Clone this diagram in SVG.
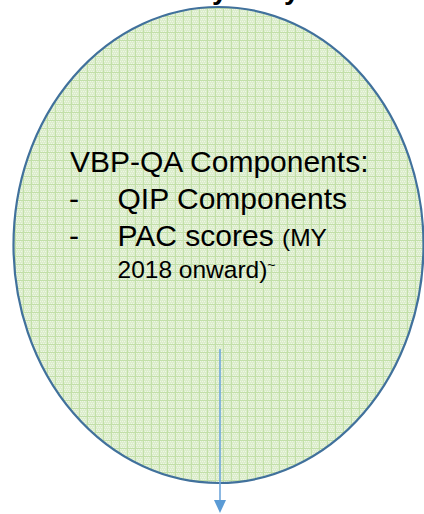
<svg xmlns="http://www.w3.org/2000/svg" width="424" height="514" viewBox="0 0 424 514">
  <style>
    .title { font-family: "Liberation Sans", Arial, sans-serif; font-weight: bold; font-size: 28px; fill: #000; }
    .label { font-family: "Liberation Sans", Arial, sans-serif; font-size: 30px; fill: #000; }
    .small { font-size: 24.5px; }
    .tiny { font-size: 14px; }
    .conn { stroke: #6fa6db; stroke-width: 1.6; fill: none; }
  </style>
  <defs>
    <!-- light green grid fill with a fine dotted texture -->
    <pattern id="gridFill" x="7" y="0" width="8" height="8" patternUnits="userSpaceOnUse">
      <rect width="8" height="8" fill="#dcedcc"/>
      <rect x="1" y="1" width="1" height="1" fill="#eef6e6"/>
      <rect x="3" y="1" width="1" height="1" fill="#eef6e6"/>
      <rect x="5" y="1" width="1" height="1" fill="#eef6e6"/>
      <rect x="2" y="3" width="1" height="1" fill="#eef6e6"/>
      <rect x="4" y="3" width="1" height="1" fill="#eef6e6"/>
      <rect x="6" y="3" width="1" height="1" fill="#eef6e6"/>
      <rect x="1" y="5" width="1" height="1" fill="#eef6e6"/>
      <rect x="3" y="5" width="1" height="1" fill="#eef6e6"/>
      <rect x="5" y="5" width="1" height="1" fill="#eef6e6"/>
      <rect x="2" y="7" width="1" height="1" fill="#eef6e6"/>
      <rect x="4" y="7" width="1" height="1" fill="#eef6e6"/>
      <rect x="6" y="7" width="1" height="1" fill="#eef6e6"/>
      <rect x="0" y="0" width="8" height="1" fill="#c2dfa8"/>
      <rect x="0" y="0" width="1" height="8" fill="#c2dfa8"/>
    </pattern>
  </defs>

  <rect width="424" height="514" fill="#ffffff"/>

  <!-- heading above the oval, running off the top edge -->
  <g id="heading">
    <text class="title" x="212" y="-1">y</text>
    <text class="title" x="284" y="-1">y</text>
  </g>

  <!-- VBP-QA component oval -->
  <g id="vbp-qa">
    <ellipse cx="218.5" cy="245" rx="205" ry="238" fill="url(#gridFill)" stroke="#41719c" stroke-width="2.2"/>
    <text class="label" x="70" y="171.5">VBP-QA Components:</text>
    <text class="label" x="69" y="209">-</text>
    <text class="label" x="117.5" y="209">QIP Components</text>
    <text class="label" x="69" y="246">-</text>
    <text class="label" x="117.5" y="246">PAC scores <tspan class="small">(MY</tspan></text>
    <text class="label small" x="117.5" y="278">2018 onward)<tspan class="tiny" dy="-8">~</tspan></text>
  </g>

  <!-- connectors -->
  <g id="connectors">
    <line class="conn" x1="220" y1="349" x2="220" y2="501"/>
    <path d="M214,500 L226,500 L220,513 Z" fill="#5b9bd5"/>
  </g>
</svg>
